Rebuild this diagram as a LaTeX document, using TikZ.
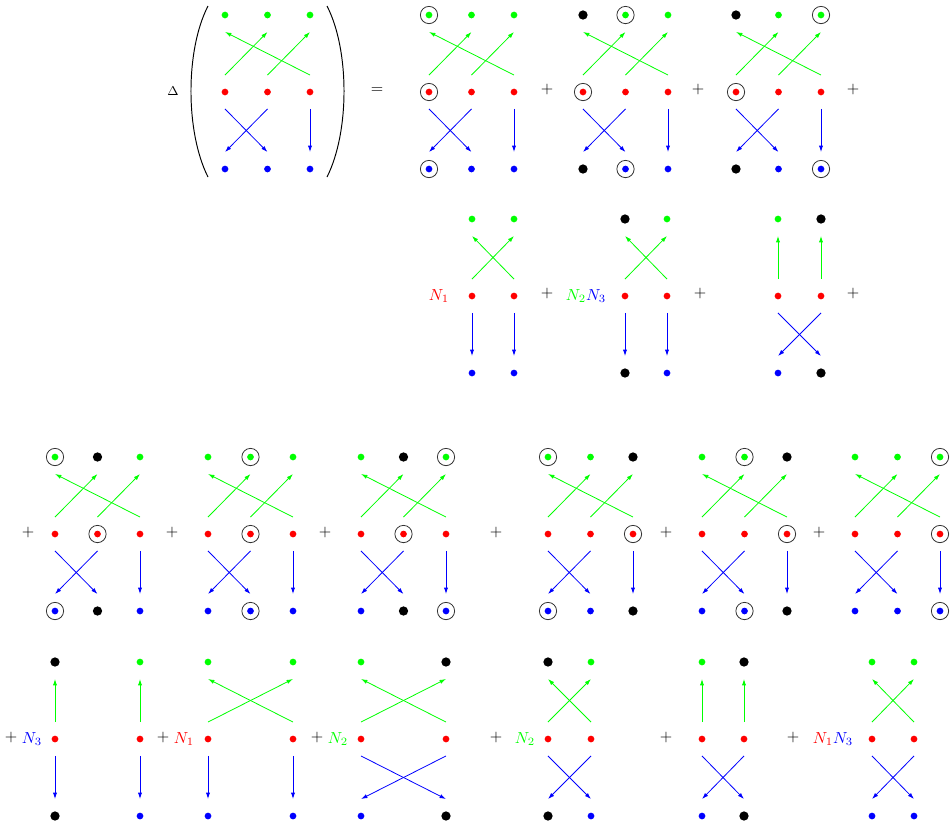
\documentclass[tikz,border=0pt]{standalone}
\usepackage{xcolor}
\usepackage{tikz}
\usetikzlibrary{arrows.meta}

\newcommand{\gap}{10.6pt}
\newcommand{\linkup}[2]{\draw[garr] ([yshift=\gap]#1.center) -- ([yshift=-\gap]#2.center);}
\newcommand{\linkdown}[2]{\draw[barr] ([yshift=-\gap]#1.center) -- ([yshift=\gap]#2.center);}

% name, x of first column, y of red row, kinds of outer rows, kinds of red row
\newcommand{\threecol}[9]{%
  \node[#4=green] (#1g1) at (#2,#3-77) {};
  \node[#5=green] (#1g2) at (#2+42.5,#3-77) {};
  \node[#6=green] (#1g3) at (#2+85,#3-77) {};
  \node[#7=red] (#1r1) at (#2,#3) {};
  \node[#8=red] (#1r2) at (#2+42.5,#3) {};
  \node[#9=red] (#1r3) at (#2+85,#3) {};
  \node[#4=blue] (#1b1) at (#2,#3+77) {};
  \node[#5=blue] (#1b2) at (#2+42.5,#3+77) {};
  \node[#6=blue] (#1b3) at (#2+85,#3+77) {};
  \linkup{#1r1}{#1g2} \linkup{#1r2}{#1g3} \linkup{#1r3}{#1g1}
  \linkdown{#1r1}{#1b2} \linkdown{#1r2}{#1b1} \linkdown{#1r3}{#1b3}
}

% name, x left, x right, y of red row, kinds of top row, kinds of bottom row
\newcommand{\twocol}[8]{%
  \node[#5=green] (#1g1) at (#2,#4-77) {};
  \node[#6=green] (#1g2) at (#3,#4-77) {};
  \node[pdot=red] (#1r1) at (#2,#4) {};
  \node[pdot=red] (#1r2) at (#3,#4) {};
  \node[#7=blue] (#1b1) at (#2,#4+77) {};
  \node[#8=blue] (#1b2) at (#3,#4+77) {};
}
\newcommand{\gstraight}[1]{\linkup{#1r1}{#1g1} \linkup{#1r2}{#1g2}}
\newcommand{\gcross}[1]{\linkup{#1r1}{#1g2} \linkup{#1r2}{#1g1}}
\newcommand{\bstraight}[1]{\linkdown{#1r1}{#1b1} \linkdown{#1r2}{#1b2}}
\newcommand{\bcross}[1]{\linkdown{#1r1}{#1b2} \linkdown{#1r2}{#1b1}}

\begin{document}
\begin{tikzpicture}[
    x=0.625pt, y=-0.625pt,
    pdot/.style={circle, fill=#1, inner sep=0pt, minimum size=4.2pt},
    blk/.style={circle, fill=black, inner sep=0pt, minimum size=5.8pt},
    ring/.style={circle, draw=black!80, line width=0.5pt, inner sep=0pt, minimum size=10.8pt,
                 path picture={\fill[#1] (path picture bounding box.center) circle (2.1pt);}},
    garr/.style={draw=green, line width=0.5pt, -{Latex[length=4pt, width=2.6pt]}},
    barr/.style={draw=blue, line width=0.5pt, -{Latex[length=4pt, width=2.6pt]}},
    sym/.style={inner sep=0pt}
]
\useasboundingbox (0,0) rectangle (952,824);

% first line
\node[sym, font=\fontsize{8}{9}\selectfont] (delta) at (173,91) {$\Delta$};
\draw[line width=0.6pt] (208,6) .. controls (185.3,50) and (185.3,132) .. (208,177);
\draw[line width=0.6pt] (327,6) .. controls (349.7,50) and (349.7,132) .. (327,177);
\threecol{D}{225}{92}{pdot}{pdot}{pdot}{pdot}{pdot}{pdot}
\node[sym] (eq) at (377,91) {$=$};
\threecol{A}{429}{92}{ring}{pdot}{pdot}{ring}{pdot}{pdot}
\node[sym] (plus1) at (547,89) {$+$};
\threecol{B}{583}{92}{blk}{ring}{pdot}{ring}{pdot}{pdot}
\node[sym] (plus2) at (698,89) {$+$};
\threecol{C}{736}{92}{blk}{pdot}{ring}{ring}{pdot}{pdot}
\node[sym] (plus3) at (853,89) {$+$};

% second line
\node[sym, text=red] (n1a) at (439,296) {$N_1$};
\twocol{E}{472}{514}{296}{pdot}{pdot}{pdot}{pdot} \gcross{E} \bstraight{E}
\node[sym] (plus4) at (547,293) {$+$};
\node[sym] (n23) at (586,296) {$\textcolor{green}{N_2}\textcolor{blue}{N_3}$};
\twocol{F}{625}{667}{296}{blk}{pdot}{blk}{pdot} \gcross{F} \bstraight{F}
\node[sym] (plus5) at (700,293) {$+$};
\twocol{G}{778}{821}{296}{pdot}{blk}{pdot}{blk} \gstraight{G} \bcross{G}
\node[sym] (plus6) at (853,293) {$+$};

% third line
\node[sym] (plus7) at (28,532) {$+$};
\threecol{H}{55}{534}{ring}{blk}{pdot}{pdot}{ring}{pdot}
\node[sym] (plus8) at (172,532) {$+$};
\threecol{I}{208}{534}{pdot}{ring}{pdot}{pdot}{ring}{pdot}
\node[sym] (plus9) at (325,532) {$+$};
\threecol{J}{361}{534}{pdot}{blk}{ring}{pdot}{ring}{pdot}
\node[sym] (plus10) at (496,532) {$+$};
\threecol{K}{548}{534}{ring}{pdot}{blk}{pdot}{pdot}{ring}
\node[sym] (plus11) at (666,532) {$+$};
\threecol{L}{702}{534}{pdot}{ring}{blk}{pdot}{pdot}{ring}
\node[sym] (plus12) at (819,532) {$+$};
\threecol{M}{855}{534}{pdot}{pdot}{ring}{pdot}{pdot}{ring}

% fourth line
\node[sym] (plus13) at (11,737) {$+$};
\node[sym, text=blue] (n3b) at (32,739) {$N_3$};
\twocol{N}{55}{140}{739}{blk}{pdot}{blk}{pdot} \gstraight{N} \bstraight{N}
\node[sym] (plus14) at (163,737) {$+$};
\node[sym, text=red] (n1b) at (184,739) {$N_1$};
\twocol{O}{208}{293}{739}{pdot}{pdot}{pdot}{pdot} \gcross{O} \bstraight{O}
\node[sym] (plus15) at (317,737) {$+$};
\node[sym, text=green] (n2a) at (338,739) {$N_2$};
\twocol{P}{361}{446}{739}{pdot}{blk}{pdot}{blk} \gcross{P} \bcross{P}
\node[sym] (plus16) at (496,737) {$+$};
\node[sym, text=green] (n2b) at (525,739) {$N_2$};
\twocol{Q}{548}{591}{739}{blk}{pdot}{blk}{pdot} \gcross{Q} \bcross{Q}
\node[sym] (plus17) at (666,737) {$+$};
\twocol{R}{702}{744}{739}{pdot}{blk}{pdot}{blk} \gstraight{R} \bcross{R}
\node[sym] (plus18) at (793,737) {$+$};
\node[sym] (n13) at (833,739) {$\textcolor{red}{N_1}\textcolor{blue}{N_3}$};
\twocol{S}{872}{914}{739}{pdot}{pdot}{pdot}{pdot} \gcross{S} \bcross{S}
\end{tikzpicture}
\end{document}
